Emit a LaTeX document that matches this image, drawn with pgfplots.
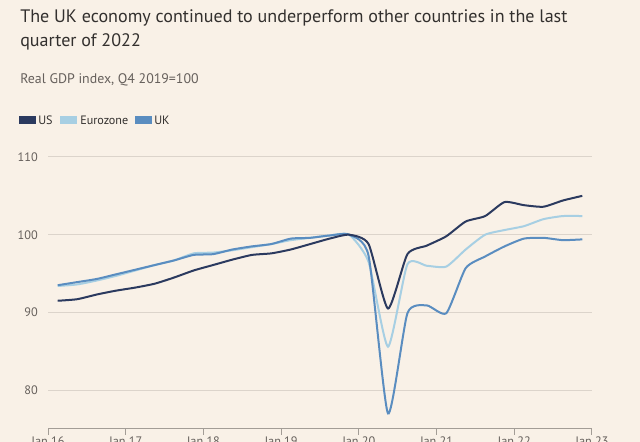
\documentclass[border=0pt]{standalone}
\usepackage{fontspec}
\setmainfont{PT Sans}
\usepackage{pgfplots}
\pgfplotsset{compat=1.18}
\usepackage{pgfplotstable}

\definecolor{bg}{HTML}{F9F1E7}
\definecolor{usc}{HTML}{2B3A5F}
\definecolor{ezc}{HTML}{A7CFE3}
\definecolor{ukc}{HTML}{5A8DC0}
\definecolor{titlec}{HTML}{33302E}
\definecolor{subc}{HTML}{66605C}
\definecolor{gridc}{HTML}{DCD4CB}
\definecolor{axisc}{HTML}{A39D96}

% quarterly real GDP index, Q4 2019 = 100, plotted at mid-quarter
\pgfplotstableread{
x        us     ez     uk
2016.125 91.5   93.4   93.5
2016.375 91.7   93.6   93.9
2016.625 92.3   94.1   94.3
2016.875 92.8   94.7   94.9
2017.125 93.2   95.4   95.5
2017.375 93.7   96.1   96.1
2017.625 94.5   96.7   96.7
2017.875 95.4   97.6   97.4
2018.125 96.1   97.7   97.5
2018.375 96.8   98.0   98.1
2018.625 97.4   98.4   98.5
2018.875 97.6   98.8   98.8
2019.125 98.1   99.3   99.5
2019.375 98.8   99.6   99.6
2019.625 99.5   99.9   99.9
2019.875 100.0  100.0  100.0
2020.125 98.8   96.5   97.3
2020.375 90.5   85.6   77.0
2020.625 97.5   96.2   89.9
2020.875 98.6   96.0   90.9
2021.125 99.8   95.9   89.9
2021.375 101.7  98.1   95.7
2021.625 102.4  100.0  97.2
2021.875 104.2  100.6  98.5
2022.125 103.8  101.1  99.5
2022.375 103.6  102.0  99.6
2022.625 104.4  102.4  99.3
2022.875 105.0  102.4  99.4
}\gdp

\begin{document}
\begin{tikzpicture}
\fill[bg] (0,0) rectangle (480pt,331.5pt);
\node[anchor=base west, inner sep=0pt, text=titlec, font=\fontsize{13.55pt}{16pt}\selectfont]
  at (15pt,314.5pt) {The UK economy continued to underperform other countries in the last};
\node[anchor=base west, inner sep=0pt, text=titlec, font=\fontsize{13.55pt}{16pt}\selectfont]
  at (15pt,296.25pt) {quarter of 2022};
\node[anchor=base west, inner sep=0pt, text=subc, font=\fontsize{10.4pt}{12pt}\selectfont]
  at (15pt,268.5pt) {Real GDP index, Q4 2019=100};
% legend
\fill[usc] (14.25pt,238.5pt) rectangle (27pt,244.5pt);
\node[anchor=base west, inner sep=0pt, text=titlec, font=\fontsize{9.1pt}{11pt}\selectfont] at (28.5pt,237.75pt) {US};
\fill[ezc] (45pt,238.5pt) rectangle (57.75pt,244.5pt);
\node[anchor=base west, inner sep=0pt, text=titlec, font=\fontsize{9.1pt}{11pt}\selectfont] at (60pt,237.75pt) {Eurozone};
\fill[ukc] (101.25pt,238.5pt) rectangle (114pt,244.5pt);
\node[anchor=base west, inner sep=0pt, text=titlec, font=\fontsize{9.1pt}{11pt}\selectfont] at (115.5pt,237.75pt) {UK};

\begin{axis}[
  at={(36pt,9.75pt)}, anchor=south west,
  scale only axis, width=408pt, height=204pt,
  xmin=2016, xmax=2023, ymin=75, ymax=110,
  axis x line*=bottom, axis y line*=left,
  y axis line style={draw=none},
  x axis line style={draw=axisc, line width=0.75pt},
  xtick={2016,...,2023},
  xticklabels={Jan 16,Jan 17,Jan 18,Jan 19,Jan 20,Jan 21,Jan 22,Jan 23},
  xtick align=outside,
  x tick style={draw=axisc, line width=0.75pt},
  major tick length=4.5pt,
  ytick={80,90,100,110},
  y tick style={draw=none},
  ymajorgrids, grid style={draw=gridc, line width=0.75pt},
  tick label style={text=subc, font=\fontsize{9.2pt}{10pt}\selectfont},
  yticklabel style={anchor=east, inner sep=0pt, xshift=-7.5pt},
  xticklabel style={anchor=north, inner sep=0pt, yshift=-1pt},
  /pgf/number format/assume math mode=true,
  clip=false,
]
\addplot[ezc, line width=1.5pt, smooth, tension=0.35] table[x=x, y=ez] {\gdp};
\addplot[ukc, line width=1.5pt, smooth, tension=0.35] table[x=x, y=uk] {\gdp};
\addplot[usc, line width=1.5pt, smooth, tension=0.35] table[x=x, y=us] {\gdp};
\end{axis}
\pgfresetboundingbox
\useasboundingbox (0,0) rectangle (480pt,331.5pt);
\end{tikzpicture}
\end{document}
